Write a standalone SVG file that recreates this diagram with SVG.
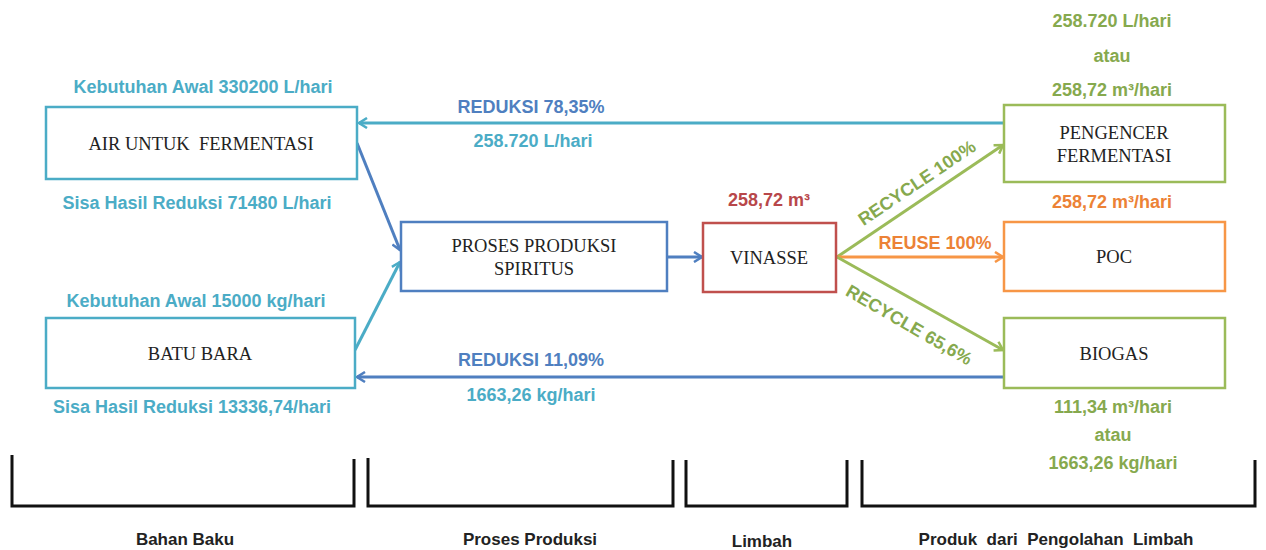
<svg xmlns="http://www.w3.org/2000/svg" width="1266" height="550" viewBox="0 0 1266 550">
<style>
.box{fill:#fff;stroke-width:2.5}
.bt{font-family:"Liberation Serif",serif;font-size:18.5px;fill:#222;text-anchor:middle;white-space:pre}
.lb{font-family:"Liberation Sans",Arial,sans-serif;font-weight:bold;font-size:18px;text-anchor:middle}
.lblue{fill:#4bacc6}
.dblue{fill:#4f7fc0}
.grn{fill:#86a94e}
.org{fill:#ec8236}
.red{fill:#b8474a}
.ft{font-family:"Liberation Sans",Arial,sans-serif;font-weight:bold;font-size:17px;fill:#222;text-anchor:middle;white-space:pre}
.br{fill:none;stroke:#111;stroke-width:3}
.c{fill:none;stroke-width:3}
</style>
<defs>
<marker id="aL" viewBox="0 0 12 12" refX="10" refY="6" markerWidth="12" markerHeight="12" markerUnits="userSpaceOnUse" orient="auto"><path d="M2,1 L10,6 L2,11" fill="none" stroke="#4bacc6" stroke-width="2.5"/></marker>
<marker id="aB" viewBox="0 0 12 12" refX="10" refY="6" markerWidth="12" markerHeight="12" markerUnits="userSpaceOnUse" orient="auto"><path d="M2,1 L10,6 L2,11" fill="none" stroke="#4f7fc0" stroke-width="2.5"/></marker>
<marker id="aG" viewBox="0 0 12 12" refX="10" refY="6" markerWidth="12" markerHeight="12" markerUnits="userSpaceOnUse" orient="auto"><path d="M2,1 L10,6 L2,11" fill="none" stroke="#9bbb59" stroke-width="2.5"/></marker>
<marker id="aO" viewBox="0 0 12 12" refX="10" refY="6" markerWidth="12" markerHeight="12" markerUnits="userSpaceOnUse" orient="auto"><path d="M2,1 L10,6 L2,11" fill="none" stroke="#f79646" stroke-width="2.5"/></marker>
</defs>

<g id="connectors">
<line class="c" x1="1004" y1="123" x2="359" y2="123" stroke="#4bacc6" marker-end="url(#aL)"/>
<line class="c" x1="1004" y1="377" x2="357" y2="377" stroke="#4f7fc0" marker-end="url(#aB)"/>
<line class="c" x1="357" y1="143" x2="400" y2="250" stroke="#4f7fc0" marker-end="url(#aB)"/>
<line class="c" x1="355" y1="350" x2="400" y2="262" stroke="#4bacc6" marker-end="url(#aL)"/>
<line class="c" x1="667" y1="257" x2="702" y2="257" stroke="#4f7fc0" marker-end="url(#aB)"/>
<line class="c" x1="837" y1="257" x2="1003" y2="145" stroke="#9bbb59" marker-end="url(#aG)"/>
<line class="c" x1="837" y1="257" x2="1003" y2="257" stroke="#f79646" marker-end="url(#aO)"/>
<line class="c" x1="837" y1="257" x2="1003" y2="350" stroke="#9bbb59" marker-end="url(#aG)"/>
<text class="lb dblue" x="531" y="113">REDUKSI 78,35%</text>
<text class="lb lblue" x="533" y="147">258.720 L/hari</text>
<text class="lb dblue" x="531" y="366">REDUKSI 11,09%</text>
<text class="lb lblue" x="531" y="401">1663,26 kg/hari</text>
<text class="lb grn" transform="translate(917,183) rotate(-34)" y="6">RECYCLE 100%</text>
<text class="lb org" x="935" y="249">REUSE 100%</text>
<text class="lb grn" transform="translate(909,325) rotate(30)" y="6">RECYCLE 65,6%</text>
</g>

<g id="air">
<rect class="box" x="46" y="107" width="311" height="72" stroke="#4bacc6"/>
<text class="bt" x="201" y="150" xml:space="preserve">AIR UNTUK  FERMENTASI</text>
<text class="lb lblue" x="203" y="93">Kebutuhan Awal 330200 L/hari</text>
<text class="lb lblue" x="197" y="209">Sisa Hasil Reduksi 71480 L/hari</text>
</g>

<g id="batubara">
<rect class="box" x="46" y="318" width="309" height="70" stroke="#4bacc6"/>
<text class="bt" x="200" y="360">BATU BARA</text>
<text class="lb lblue" x="196" y="307">Kebutuhan Awal 15000 kg/hari</text>
<text class="lb lblue" x="192" y="413">Sisa Hasil Reduksi 13336,74/hari</text>
</g>

<g id="proses">
<rect class="box" x="401" y="222" width="266" height="69" stroke="#4f7fc0"/>
<text class="bt" x="534" y="252">PROSES PRODUKSI</text>
<text class="bt" x="534" y="275">SPIRITUS</text>
</g>

<g id="vinasse">
<rect class="box" x="703" y="223" width="133" height="69" stroke="#c0504d"/>
<text class="bt" x="769" y="264">VINASSE</text>
<text class="lb red" x="769" y="206">258,72 m³</text>
</g>

<g id="pengencer">
<rect class="box" x="1004" y="105" width="221" height="77" stroke="#9bbb59"/>
<text class="bt" x="1114" y="139">PENGENCER</text>
<text class="bt" x="1114" y="162">FERMENTASI</text>
<text class="lb grn" x="1112" y="27">258.720 L/hari</text>
<text class="lb grn" x="1112" y="62">atau</text>
<text class="lb grn" x="1112" y="96">258,72 m³/hari</text>
<text class="lb org" x="1112" y="208">258,72 m³/hari</text>
</g>

<g id="poc">
<rect class="box" x="1004" y="222" width="221" height="69" stroke="#f79646"/>
<text class="bt" x="1114" y="263">POC</text>
</g>

<g id="biogas">
<rect class="box" x="1004" y="318" width="221" height="70" stroke="#9bbb59"/>
<text class="bt" x="1114" y="360">BIOGAS</text>
<text class="lb grn" x="1113" y="413">111,34 m³/hari</text>
<text class="lb grn" x="1113" y="441">atau</text>
<text class="lb grn" x="1113" y="469">1663,26 kg/hari</text>
</g>

<g id="brackets">
<path class="br" d="M12,455 V506 H354 V459"/>
<path class="br" d="M368,458 V506 H673 V460"/>
<path class="br" d="M686,460 V506 H847 V460"/>
<path class="br" d="M862,460 V506 H1255 V460"/>
<text class="ft" x="185" y="545">Bahan Baku</text>
<text class="ft" x="530" y="545">Proses Produksi</text>
<text class="ft" x="762" y="547">Limbah</text>
<text class="ft" x="1056" y="545" xml:space="preserve">Produk  dari  Pengolahan  Limbah</text>
</g>
</svg>
